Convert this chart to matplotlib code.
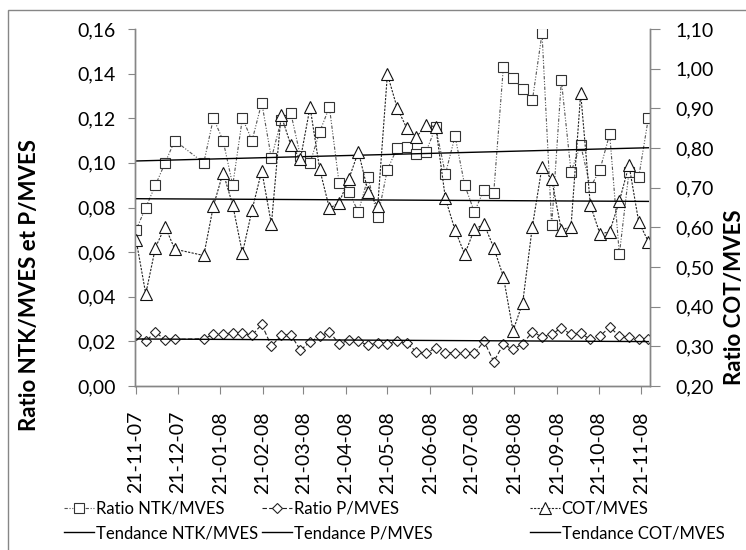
import matplotlib
matplotlib.use('Agg')
import matplotlib.pyplot as plt
import matplotlib.dates as mdates
from matplotlib.patches import Rectangle
from matplotlib.ticker import FuncFormatter, MultipleLocator
import numpy as np
import pandas as pd

plt.rcParams['font.family'] = ['Lato', 'DejaVu Sans']

# Sampling dates (weekly, with a gap over Christmas)
dates = pd.to_datetime([
    '2007-11-21', '2007-11-28', '2007-12-05', '2007-12-12', '2007-12-19',
    '2008-01-09', '2008-01-16', '2008-01-23', '2008-01-30', '2008-02-06',
    '2008-02-13', '2008-02-20', '2008-02-27', '2008-03-05', '2008-03-12',
    '2008-03-19', '2008-03-26', '2008-04-02', '2008-04-09', '2008-04-16',
    '2008-04-23', '2008-04-30', '2008-05-07', '2008-05-14', '2008-05-21',
    '2008-05-28', '2008-06-04', '2008-06-11', '2008-06-18', '2008-06-25',
    '2008-07-02', '2008-07-09', '2008-07-16', '2008-07-23', '2008-07-30',
    '2008-08-06', '2008-08-13', '2008-08-20', '2008-08-27', '2008-09-03',
    '2008-09-10', '2008-09-17', '2008-09-24', '2008-10-01', '2008-10-08',
    '2008-10-15', '2008-10-22', '2008-10-29', '2008-11-05', '2008-11-12',
    '2008-11-19', '2008-11-26'])

ntk = [0.070, 0.080, 0.090, 0.100, 0.110, 0.100, 0.120, 0.110, 0.090, 0.120,
       0.110, 0.127, 0.102, 0.119, 0.1225, 0.103, 0.100, 0.114, 0.125, 0.091,
       0.087, 0.078, 0.0935, 0.0756, 0.097, 0.1065, 0.107, 0.104, 0.105, 0.116,
       0.095, 0.112, 0.090, 0.078, 0.088, 0.0865, 0.143, 0.138, 0.133, 0.128,
       0.158, 0.072, 0.137, 0.096, 0.108, 0.089, 0.097, 0.113, 0.059, 0.096,
       0.0935, 0.120]

p_ratio = [0.0227, 0.0201, 0.0242, 0.0206, 0.0209, 0.0212, 0.0231, 0.0231, 0.0239, 0.0236,
           0.0228, 0.0276, 0.0179, 0.0227, 0.0230, 0.0161, 0.0197, 0.0224, 0.0242, 0.0190,
           0.0204, 0.0201, 0.0182, 0.0194, 0.0187, 0.0201, 0.0191, 0.0154, 0.0146, 0.0172,
           0.0149, 0.0149, 0.0149, 0.0146, 0.0201, 0.0109, 0.0187, 0.0164, 0.0190, 0.0242,
           0.0221, 0.0231, 0.0261, 0.0231, 0.0236, 0.0209, 0.0224, 0.0264, 0.0224, 0.0219,
           0.0209, 0.0212]

cot = [0.568, 0.432, 0.549, 0.602, 0.545, 0.529, 0.654, 0.738, 0.656, 0.535,
       0.644, 0.743, 0.608, 0.883, 0.808, 0.772, 0.903, 0.746, 0.648, 0.662,
       0.721, 0.791, 0.690, 0.654, 0.986, 0.902, 0.850, 0.828, 0.857, 0.854,
       0.673, 0.593, 0.532, 0.595, 0.608, 0.549, 0.476, 0.339, 0.410, 0.602,
       0.753, 0.721, 0.593, 0.602, 0.938, 0.656, 0.583, 0.589, 0.666, 0.757,
       0.614, 0.564]

x = mdates.date2num(dates)
gray = '#868686'

fig = plt.figure(figsize=(7.46, 5.5), dpi=100)
ax = fig.add_axes([135 / 746, 1 - 386 / 550, (650 - 135) / 746, (386 - 29) / 550])
ax2 = ax.twinx()

# measured series
l_ntk, = ax.plot(x, ntk, linestyle=(0, (3, 1.5, 1, 1.5, 1, 1.5)), color='#555555', lw=0.8,
                 marker='s', ms=6.5, mfc='white', mec='#333333', mew=0.8)
l_p, = ax.plot(x, p_ratio, linestyle=(0, (4, 2)), color='#222222', lw=0.8,
               marker='D', ms=5.5, mfc='white', mec='#222222', mew=0.8)
l_cot, = ax2.plot(x, cot, linestyle=(0, (2, 1.2)), color='#222222', lw=0.8,
                  marker='^', ms=8, mfc='white', mec='#111111', mew=0.8)

# linear trend lines
xt = np.array([x[0], x[-1]])
t_ntk, = ax.plot(xt, np.polyval(np.polyfit(x, ntk, 1), xt), color='black', lw=1)
t_p, = ax.plot(xt, np.polyval(np.polyfit(x, p_ratio, 1), xt), color='black', lw=1)
t_cot, = ax2.plot(xt, np.polyval(np.polyfit(x, cot, 1), xt), color='black', lw=1)

ax.set_xlim(x[0] - 0.8, x[-1] + 1.2)
ax.set_ylim(0, 0.16)
ax2.set_ylim(0.2, 1.1)
ax.yaxis.set_major_locator(MultipleLocator(0.02))
ax2.yaxis.set_major_locator(MultipleLocator(0.1))
comma = FuncFormatter(lambda v, pos: f'{v:.2f}'.replace('.', ','))
ax.yaxis.set_major_formatter(comma)
ax2.yaxis.set_major_formatter(comma)

ax.xaxis.set_major_locator(mdates.MonthLocator(bymonthday=21))
ax.xaxis.set_major_formatter(mdates.DateFormatter('%d-%m-%y'))
plt.setp(ax.get_xticklabels(), rotation=90)

for a in (ax, ax2):
    for s in a.spines.values():
        s.set_color(gray)
        s.set_linewidth(1)
    a.spines['top'].set_visible(False)
ax.tick_params(axis='y', direction='out', length=5, color=gray, labelsize=14, pad=9)
ax2.tick_params(axis='y', direction='out', length=7, color=gray, labelsize=14, pad=11)
ax.tick_params(axis='x', direction='out', length=6, color=gray, labelsize=14, pad=12)

fig.text(30 / 746, 1 - 285 / 550, 'Ratio NTK/MVES et P/MVES', rotation=90,
         ha='center', va='center', fontsize=16, fontweight='bold')
fig.text(735 / 746, 1 - 297 / 550, 'Ratio COT/MVES', rotation=90,
         ha='center', va='center', fontsize=16, fontweight='bold')

# legend: three columns placed like the original
columns = [
    ([l_ntk, t_ntk], ['Ratio NTK/MVES', 'Tendance NTK/MVES'], 64),
    ([l_p, t_p], ['Ratio P/MVES', 'Tendance P/MVES'], 262),
    ([l_cot, t_cot], ['COT/MVES', 'Tendance COT/MVES'], 530),
]
for hs, ls, x0 in columns:
    fig.legend(hs, ls, loc='center left', bbox_to_anchor=(x0 / 746, 1 - 521 / 550),
               frameon=False, fontsize=12, handlelength=1.8, handletextpad=0.1,
               labelspacing=0.5, borderpad=0, borderaxespad=0)

# chart area border (cropped on right and bottom)
fig.patches.append(Rectangle((8 / 746, -0.1), 1.2, 1 - 10 / 550 + 0.1,
                             transform=fig.transFigure, fill=False,
                             ec=gray, lw=1))

fig.savefig('out.png', dpi=100)
